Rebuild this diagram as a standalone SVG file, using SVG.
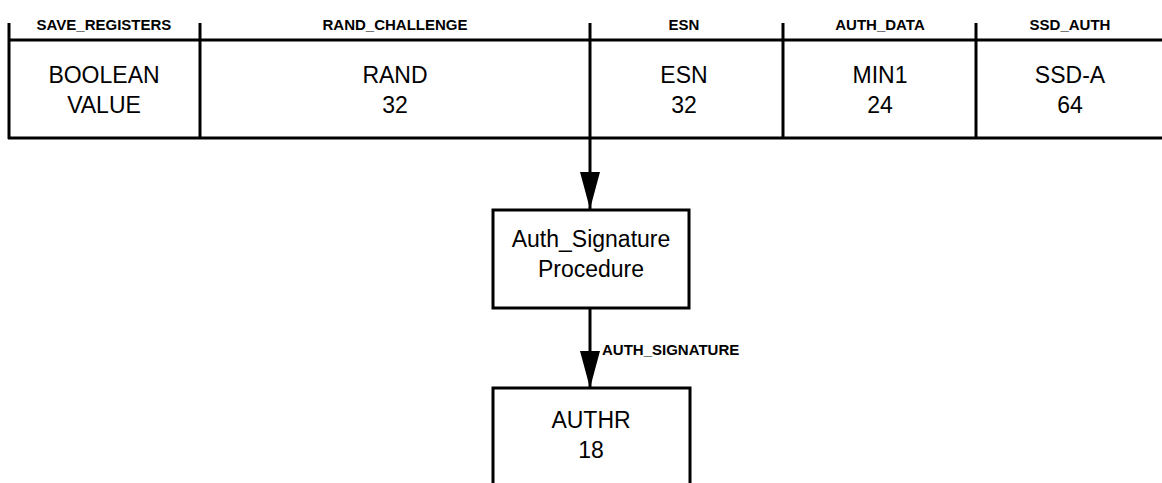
<svg xmlns="http://www.w3.org/2000/svg" width="1162" height="483" viewBox="0 0 1162 483">
<style>
.ln{stroke:#000;stroke-width:3;fill:none}
.box{stroke:#000;stroke-width:3;fill:#fff}
.lbl{font-family:"Liberation Sans",Arial,sans-serif;font-weight:bold;font-size:15px;text-anchor:middle;fill:#000}
.txt{font-family:"Liberation Sans",Arial,sans-serif;font-size:23px;text-anchor:middle;fill:#000}
.elbl{font-family:"Liberation Sans",Arial,sans-serif;font-weight:bold;font-size:15px;text-anchor:start;fill:#000}
</style>
<defs>
<marker id="ah" markerUnits="userSpaceOnUse" markerWidth="38" markerHeight="22" viewBox="0 0 38 22" refX="37" refY="11" orient="auto">
<path d="M0,1 L37,11 L0,21 Z" fill="#000"/>
</marker>
</defs>
<rect width="1162" height="483" fill="#fff"/>
<g id="table-lines">
<line class="ln" x1="8" y1="40" x2="1162" y2="40"/>
<line class="ln" x1="8" y1="138" x2="1162" y2="138"/>
</g>
<g id="save_registers">
<line class="ln" x1="9" y1="23" x2="9" y2="139"/>
<text class="lbl" x="104" y="30">SAVE_REGISTERS</text>
<text class="txt" x="104" y="83">BOOLEAN</text>
<text class="txt" x="104" y="113">VALUE</text>
</g>
<g id="rand_challenge">
<line class="ln" x1="200" y1="23" x2="200" y2="139"/>
<text class="lbl" x="395" y="30">RAND_CHALLENGE</text>
<text class="txt" x="395" y="83">RAND</text>
<text class="txt" x="395" y="113">32</text>
</g>
<g id="esn">
<line class="ln" x1="590" y1="23" x2="590" y2="139"/>
<text class="lbl" x="684" y="30">ESN</text>
<text class="txt" x="684" y="83">ESN</text>
<text class="txt" x="684" y="113">32</text>
</g>
<g id="auth_data">
<line class="ln" x1="783" y1="23" x2="783" y2="139"/>
<text class="lbl" x="880" y="30">AUTH_DATA</text>
<text class="txt" x="880" y="83">MIN1</text>
<text class="txt" x="880" y="113">24</text>
</g>
<g id="ssd_auth">
<line class="ln" x1="976" y1="23" x2="976" y2="139"/>
<text class="lbl" x="1070" y="30">SSD_AUTH</text>
<text class="txt" x="1070" y="83">SSD-A</text>
<text class="txt" x="1070" y="113">64</text>
</g>
<g id="auth_signature_procedure">
<rect class="box" x="493" y="210" width="196" height="98"/>
<text class="txt" x="591" y="247">Auth_Signature</text>
<text class="txt" x="591" y="277">Procedure</text>
</g>
<g id="authr">
<rect class="box" x="493" y="388" width="197" height="110"/>
<text class="txt" x="591" y="428">AUTHR</text>
<text class="txt" x="591" y="458">18</text>
</g>
<g id="connectors">
<line class="ln" x1="590" y1="138" x2="590" y2="209" marker-end="url(#ah)"/>
<line class="ln" x1="590" y1="308" x2="590" y2="388" marker-end="url(#ah)"/>
<text class="elbl" x="602" y="355">AUTH_SIGNATURE</text>
</g>
</svg>
